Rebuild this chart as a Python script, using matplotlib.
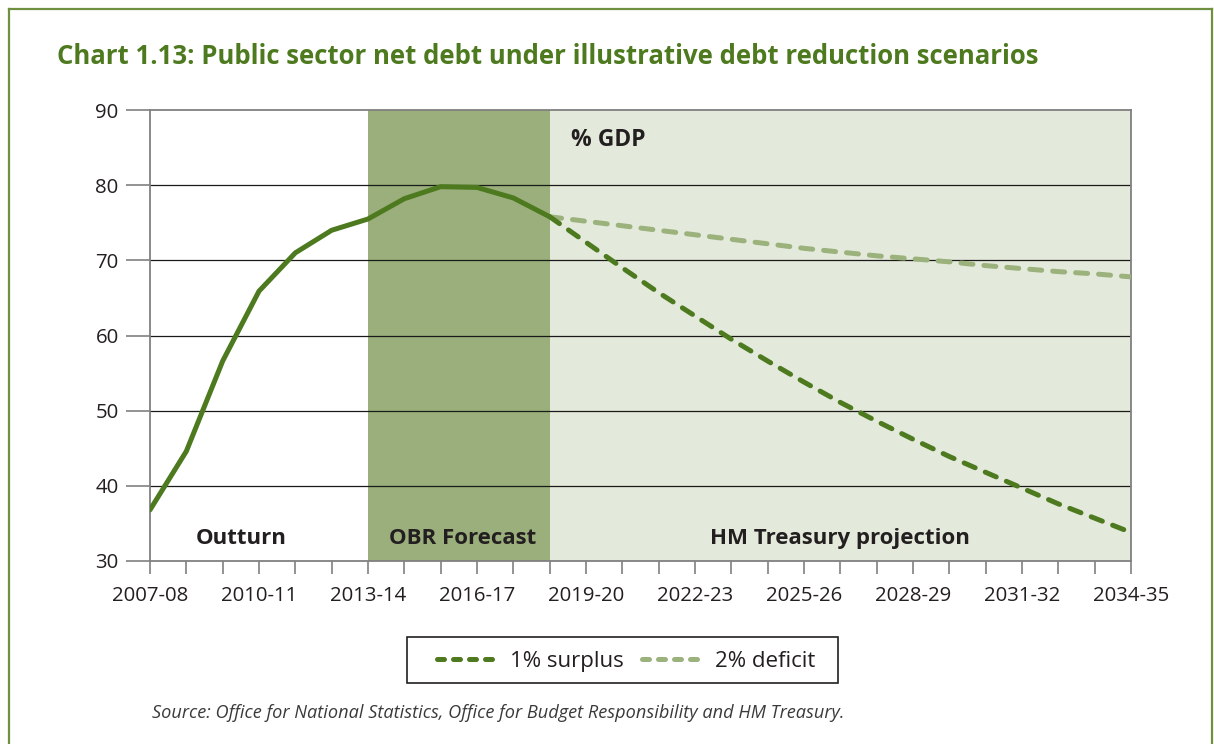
import matplotlib
matplotlib.use("Agg")
import matplotlib.pyplot as plt
from matplotlib.lines import Line2D
from matplotlib.patches import Rectangle
import numpy as np

plt.rcParams['font.family'] = ['Open Sans', 'DejaVu Sans']

# Financial years from 2007-08 to 2034-35
years = [f"{y}-{str(y + 1)[-2:]}" for y in range(2007, 2035)]
tick_labels = ["2007-08", "2010-11", "2013-14", "2016-17", "2019-20",
               "2022-23", "2025-26", "2028-29", "2031-32", "2034-35"]

# Public sector net debt, % GDP (outturn and OBR forecast, 2007-08 to 2018-19)
psnd_actual = [36.8, 44.6, 56.6, 65.9, 71.0, 74.0, 75.5, 78.2, 79.8, 79.7, 78.3, 75.8]

# Illustrative projections from 2018-19 to 2034-35
surplus_1pc = [75.8, 72.4, 69.0, 65.7, 62.6, 59.5, 56.6, 53.8, 51.1, 48.6,
               46.2, 43.9, 41.8, 39.7, 37.6, 35.7, 33.8]
deficit_2pc = [75.8, 75.2, 74.6, 74.0, 73.4, 72.8, 72.2, 71.6, 71.1, 70.6,
               70.2, 69.8, 69.3, 68.9, 68.5, 68.2, 67.8]

# Period boundaries (index into years)
forecast_start = years.index("2013-14")
projection_start = years.index("2018-19")

DARK = "#4e7a1f"
LIGHT = "#9cb27c"
BAND_DARK = "#9aaf7b"
BAND_LIGHT = "#e4eadb"
TEXT = "#231f20"
LW = 3.6

fig = plt.figure(figsize=(12.14, 7.44), dpi=100)
ax = fig.add_axes([150 / 1214, 1 - 561 / 744, (1131 - 150) / 1214, (561 - 110) / 744])

x_all = np.arange(len(years))
x_act = x_all[:len(psnd_actual)]
x_proj = x_all[projection_start:projection_start + len(surplus_1pc)]

ax.axvspan(forecast_start, projection_start, color=BAND_DARK, lw=0, zorder=0)
ax.axvspan(projection_start, len(years) - 1, color=BAND_LIGHT, lw=0, zorder=0)

for yv in [40, 50, 60, 70, 80]:
    ax.axhline(yv, color="#1a1a1a", lw=0.9, zorder=1)

ax.plot(x_act, psnd_actual, color=DARK, lw=LW, solid_capstyle="round",
        solid_joinstyle="round", zorder=4)
ax.plot(x_proj, deficit_2pc, color=LIGHT, lw=LW, dashes=(2.4, 2.2),
        dash_capstyle="round", zorder=3)
ax.plot(x_proj, surplus_1pc, color=DARK, lw=LW, dashes=(2.4, 2.2),
        dash_capstyle="round", zorder=4)

ax.set_xlim(0, len(years) - 1)
ax.set_ylim(30, 90)
ax.set_yticks(range(30, 91, 10))
ax.set_xticks([years.index(t) for t in tick_labels])
ax.set_xticklabels(tick_labels)
ax.set_xticks(x_all, minor=True)

for s in ax.spines.values():
    s.set_color("#808080")
    s.set_linewidth(1.3)

ax.tick_params(axis="both", which="both", direction="out", color="#808080",
               width=1.2, labelsize=14.7, labelcolor=TEXT)
ax.tick_params(axis="x", which="both", length=9, pad=9)
ax.tick_params(axis="y", length=17.5, pad=5)

lbl = dict(fontsize=16, fontweight="bold", color=TEXT, ha="center", va="center")
ax.text(2.5, 33, "Outturn", **lbl)
ax.text(8.6, 33, "OBR Forecast", **lbl)
ax.text(19.0, 33, "HM Treasury projection", **lbl)
ax.text(11.6, 86, "% GDP", fontsize=16.5, fontweight="bold", color=TEXT,
        ha="left", va="center")

fig.text(57 / 1214, 1 - 57 / 744,
         "Chart 1.13: Public sector net debt under illustrative debt reduction scenarios",
         fontsize=18.5, fontweight="bold", color=DARK, ha="left", va="center")

# Legend with a separately drawn box around it
handles = [Line2D([], [], color=DARK, lw=LW, dashes=(1.4, 1.8), dash_capstyle="round"),
           Line2D([], [], color=LIGHT, lw=LW, dashes=(1.4, 1.8), dash_capstyle="round")]
leg = fig.legend(handles, ["1% surplus", "2% deficit"], loc="center",
                 bbox_to_anchor=(626 / 1214, 1 - 661.5 / 744), ncol=2, frameon=False,
                 fontsize=16, handlelength=2.8, columnspacing=0.8,
                 handletextpad=0.5, borderpad=0.35, borderaxespad=0)
for t in leg.get_texts():
    t.set_color(TEXT)
fig.add_artist(Rectangle((407 / 1214, 1 - 683 / 744), (838 - 407) / 1214, 46 / 744,
                         transform=fig.transFigure, fill=False,
                         edgecolor="#231f20", lw=1.2))

fig.text(152 / 1214, 1 - 713 / 744,
         "Source: Office for National Statistics, Office for Budget Responsibility and HM Treasury.",
         fontsize=13.1, style="italic", color="#3a3a3a", ha="left", va="center")

# Page frame
frame = dict(color="#6e9040", lw=1.6, transform=fig.transFigure)
fig.add_artist(Line2D([9 / 1214, 1212 / 1214], [1 - 9 / 744, 1 - 9 / 744], **frame))
fig.add_artist(Line2D([9 / 1214, 9 / 1214], [0, 1 - 9 / 744], **frame))
fig.add_artist(Line2D([1212 / 1214, 1212 / 1214], [0, 1 - 9 / 744], **frame))

fig.savefig("out.png", dpi=100)
